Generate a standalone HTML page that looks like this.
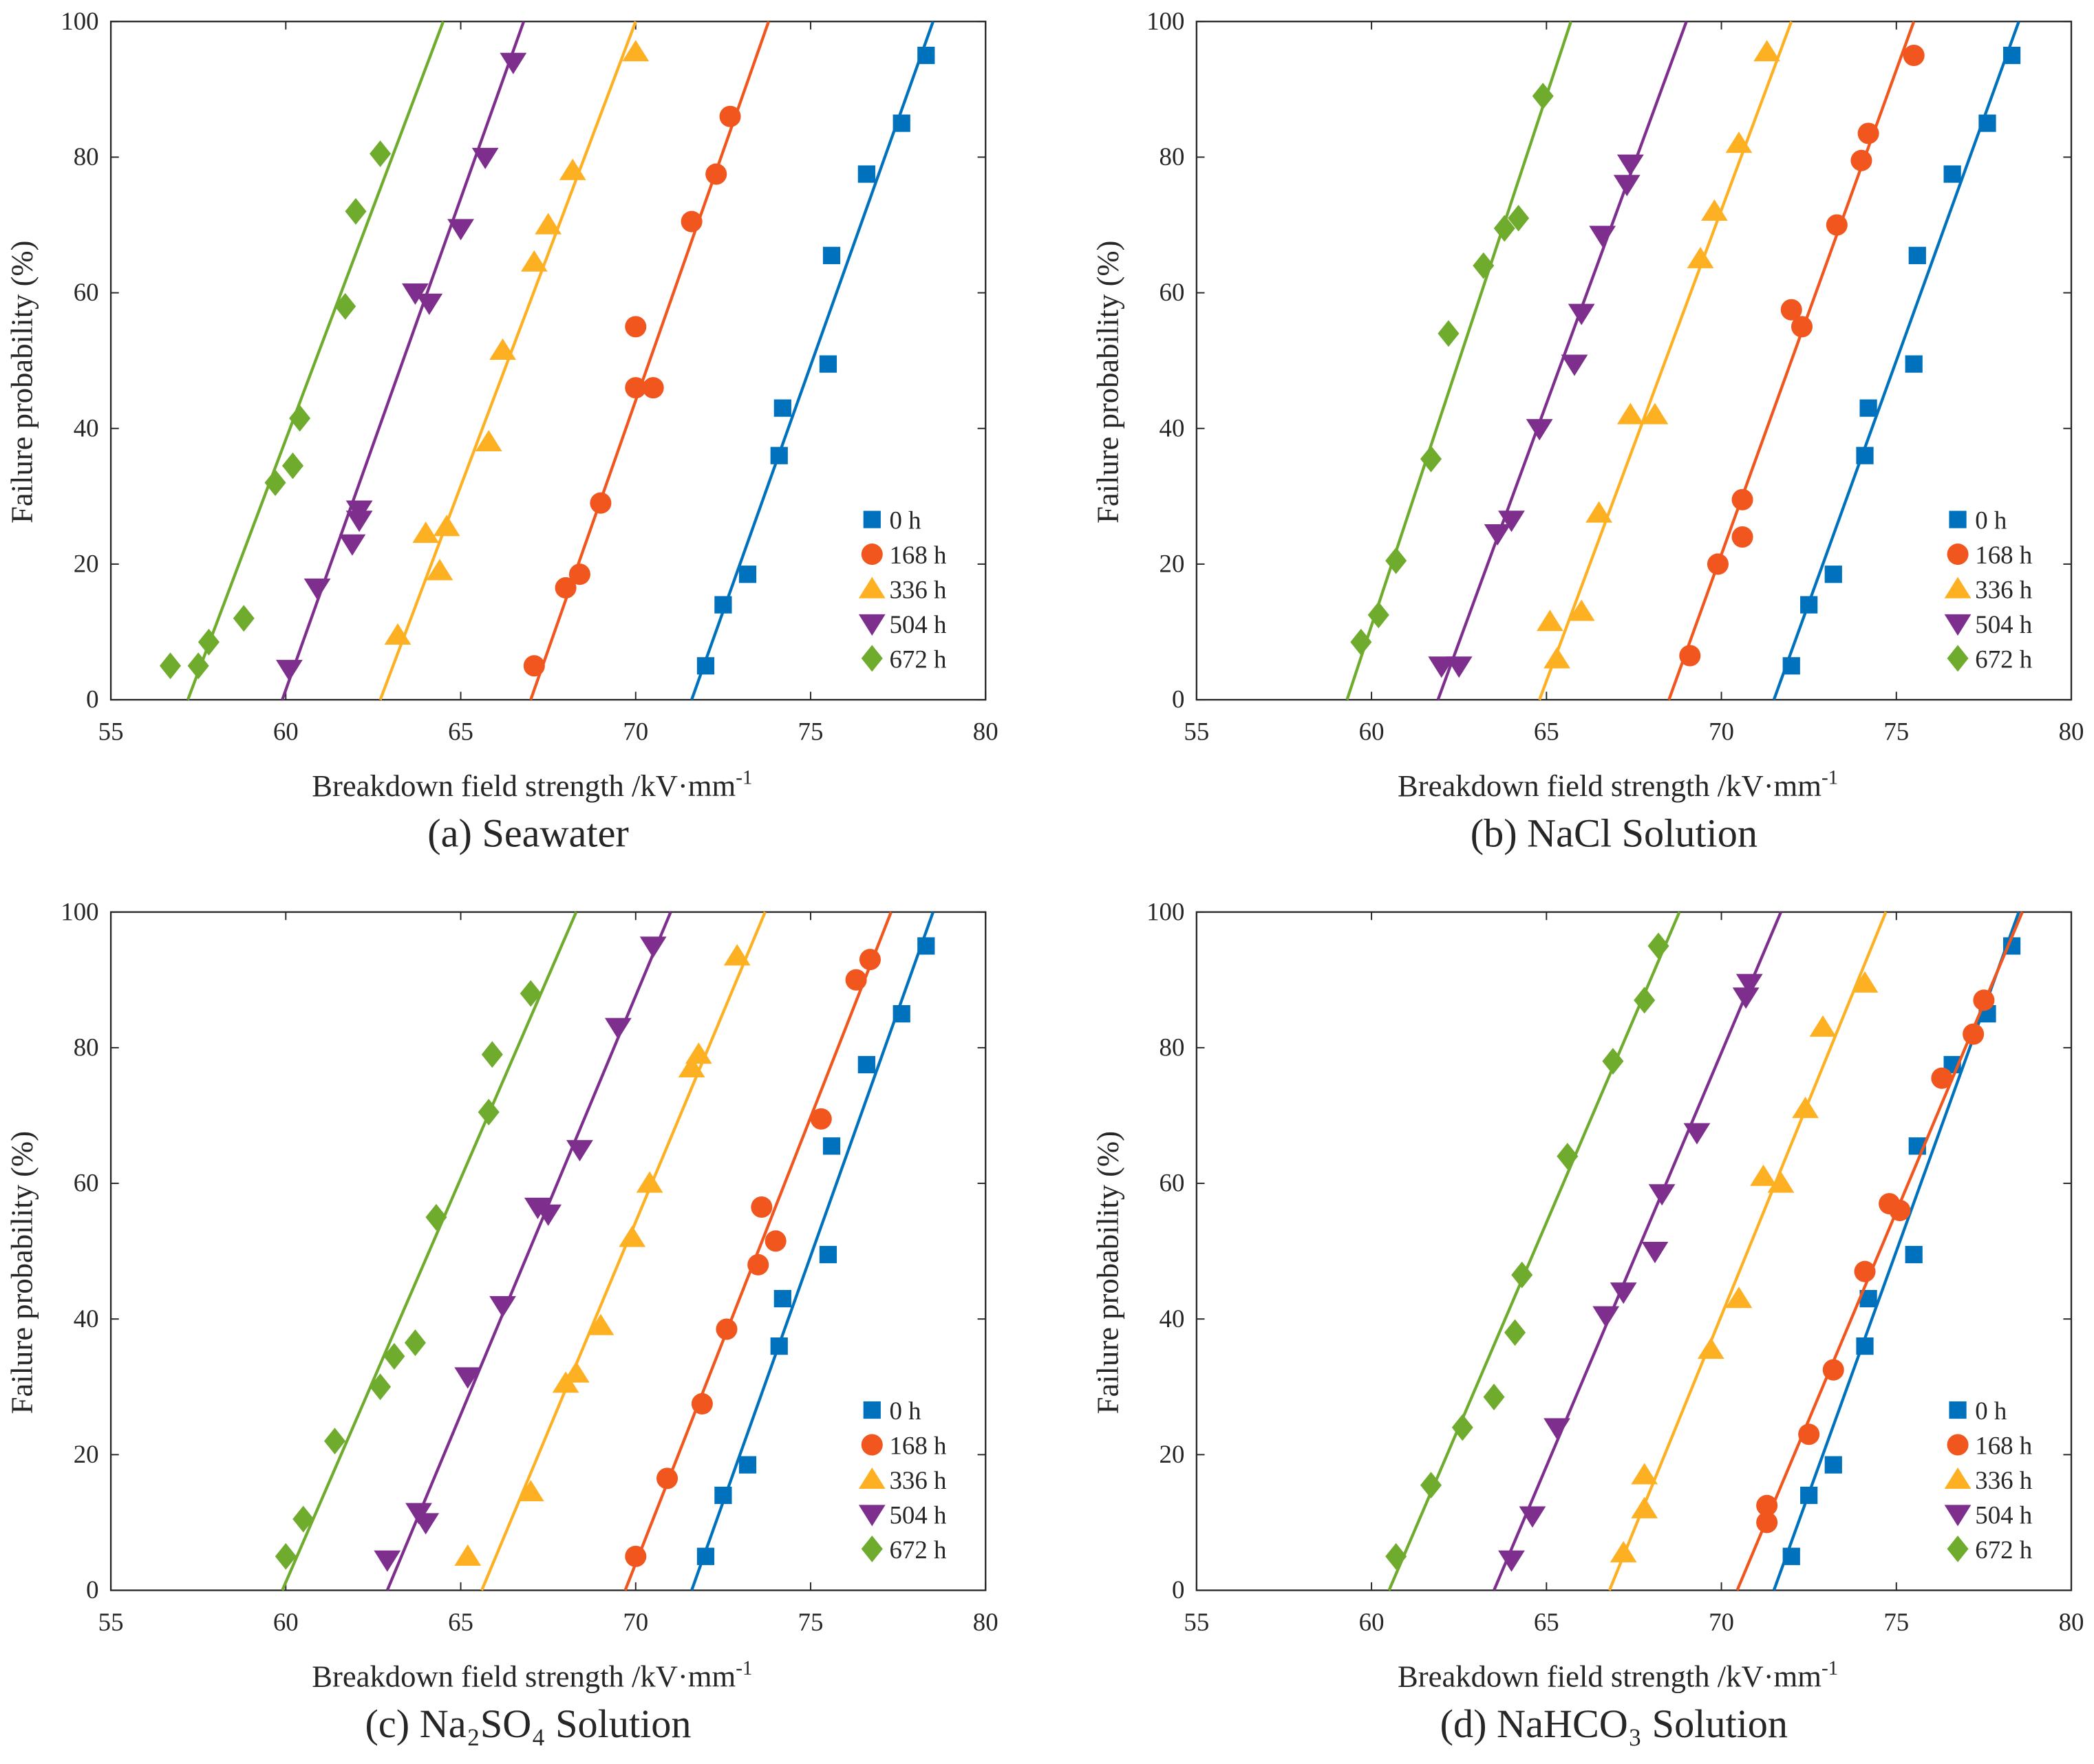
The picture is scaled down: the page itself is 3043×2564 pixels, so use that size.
<!DOCTYPE html>
<html><head><meta charset="utf-8"><style>
html,body{margin:0;padding:0;background:#fff;}
svg{display:block;}
svg text{font-family:"Liberation Serif","DejaVu Serif",serif;fill:#262626;}
</style></head><body>
<svg id="fig" width="3043" height="2564" viewBox="0 0 1568 1321" xmlns="http://www.w3.org/2000/svg" font-family="'Liberation Serif','DejaVu Serif',serif"></svg>
<script>
const series = ['0 h','168 h','336 h','504 h','672 h'];
const colors = ['#0072BD','#F0561D','#FDB022','#7E2F8E','#6FAC2E'];
const xTicks = [55,60,65,70,75,80];
const yTicks = [0,20,40,60,80,100];
const captions = ['(a) Seawater','(b) NaCl Solution','(c) Na\u2082SO\u2084 Solution','(d) NaHCO\u2083 Solution'];
const blueX = [72.0,72.5,73.2,74.1,74.2,75.5,75.6,76.6,77.6,78.3];
const blueY = [5,14,18.5,36,43,49.5,65.5,77.5,85,95];
const blueLine = [71.6,78.5];
// Panel a
const aX = [blueX,[67.1,68.0,68.4,69.0,70.0,70.5,70.0,71.6,72.3,72.7],[63.2,64.4,64.0,64.6,65.8,66.2,67.1,67.5,68.2,70.0],[60.1,60.9,61.9,62.1,62.1,63.7,64.1,65.0,65.7,66.5],[56.7,57.5,57.8,58.8,59.7,60.2,60.4,61.7,62.0,62.7]];
const aY = [blueY,[5,16.5,18.5,29,46,46,55,70.5,77.5,86],[9.5,19,24.5,25.5,38,51.5,64.5,70,78,95.5],[4.5,16.5,23,26.5,28,60,58.5,69.5,80,94],[5,5,8.5,12,32,34.5,41.5,58,72,80.5]];
const aLines = [blueLine,[67.0,73.8],[62.7,70.0],[59.9,66.8],[57.2,64.5]];
// Panel b
const bX = [blueX,[69.1,69.9,70.6,70.6,72.0,72.3,73.3,74.0,74.2,75.5],[65.1,65.3,66.0,66.5,67.4,68.1,69.4,69.8,70.5,71.3],[62.0,62.5,63.6,64.0,64.8,65.8,66.0,66.6,67.3,67.4],[59.7,60.2,60.7,61.7,62.2,63.2,63.8,64.2,64.9]];
const bY = [blueY,[6.5,20,24,29.5,57.5,55,70,79.5,83.5,95],[11.5,6,13,27.5,42,42,65,72,82,95.5],[5,5,24.5,26.5,40,49.5,57,68.5,76,79],[8.5,12.5,20.5,35.5,54,64,69.5,71,89]];
const bLines = [[71.5,78.5],[68.5,75.5],[64.8,72.0],[61.9,69.0],[59.3,65.7]];
// Panel c
const cX = [blueX,[70.0,70.9,71.9,72.6,73.5,73.6,74.0,75.3,76.3,76.7],[65.2,67.0,68.0,68.3,69.0,69.9,70.4,71.6,71.8,72.9],[62.9,63.8,64.0,65.2,66.2,67.2,67.5,68.4,69.5,70.5],[60.0,60.5,61.4,62.7,63.1,63.7,64.3,65.8,65.9,67.0]];
const cY = [blueY,[5,16.5,27.5,38.5,48,56.5,51.5,69.5,90,93],[5,14.5,30.5,32,39,52,60,77,79,93.5],[4.5,11.5,10,31.5,42,56.5,55.5,65,83,95],[5,10.5,22,30,34.5,36.5,55,70.5,79,88]];
const cLines = [blueLine,[69.7,77.3],[65.6,73.7],[62.9,71.0],[59.9,68.3]];
// Panel d
const dX = [blueX,[71.3,71.3,72.5,73.2,74.1,74.8,75.1,76.3,77.2,77.5],[67.2,67.8,67.8,69.7,70.5,71.2,71.7,72.4,72.9,74.1],[64.0,64.6,65.3,66.7,67.2,68.1,68.3,69.3,70.7,70.8],[60.7,61.7,62.6,63.5,64.1,64.3,65.6,66.9,67.8,68.2]];
const dY = [blueY,[10,12.5,23,32.5,47,57,56,75.5,82,87],[5.5,12,17,35.5,43,61,60,71,83,89.5],[4.5,11,24,40.5,44,50,58.5,67.5,87.5,89.5],[5,15.5,24,28.5,38,46.5,64,78,87,95]];
const dLines = [[71.5,78.5],[70.45,78.6],[66.8,74.7],[63.5,71.7],[60.5,68.8]];

const panels = [
 {X:aX,Y:aY,L:aLines,x0:83,y0:16},
 {X:bX,Y:bY,L:bLines,x0:896,y0:16},
 {X:cX,Y:cY,L:cLines,x0:83,y0:683},
 {X:dX,Y:dY,L:dLines,x0:896,y0:683}
];
const W=655,H=508;
const NS='http://www.w3.org/2000/svg';
const FF="'Liberation Serif','DejaVu Serif',serif";
const svg=document.getElementById('fig');
function mk(tag,attrs,parent){const e=document.createElementNS(NS,tag);for(const k in attrs)e.setAttribute(k,attrs[k]);if(tag==='text')e.setAttribute('font-family',FF);(parent||svg).appendChild(e);return e;}
function marker(g,k,px,py,c){
 let e;
 if(k===0){e=mk('rect',{x:px-6.5,y:py-6.5,width:13,height:13,fill:c},g);}
 else if(k===1){e=mk('circle',{cx:px,cy:py,r:8,fill:c},g);}
 else if(k===2){e=mk('polygon',{points:`${px},${py-9} ${px+10},${py+7} ${px-10},${py+7}`,fill:c},g);}
 else if(k===3){e=mk('polygon',{points:`${px},${py+9} ${px+10},${py-7} ${px-10},${py-7}`,fill:c},g);}
 else {e=mk('polygon',{points:`${px},${py-10} ${px+8},${py} ${px},${py+10} ${px-8},${py}`,fill:c},g);}
 return e;
}
panels.forEach((p,pi)=>{
 const g=mk('g',{});
 
 
 const sx=v=>p.x0+(v-55)/25*W;
 const sy=v=>p.y0+H-v/100*H;
 const box=mk('rect',{x:p.x0,y:p.y0,width:W,height:H,fill:'#fff',stroke:'#262626','stroke-width':1.2},g);
 
 
 xTicks.forEach(t=>{
  const x=sx(t);
  mk('line',{x1:x,y1:p.y0+H,x2:x,y2:p.y0+H-6,stroke:'#262626'},g);
  mk('line',{x1:x,y1:p.y0,x2:x,y2:p.y0+6,stroke:'#262626'},g);
  const tx=mk('text',{x:x,y:p.y0+H+30,'text-anchor':'middle','font-size':19},g);
  tx.textContent=t;
  
  
 });
 yTicks.forEach(t=>{
  const y=sy(t);
  mk('line',{x1:p.x0,y1:y,x2:p.x0+6,y2:y,stroke:'#262626'},g);
  mk('line',{x1:p.x0+W,y1:y,x2:p.x0+W-6,y2:y,stroke:'#262626'},g);
  const tx=mk('text',{x:p.x0-9,y:y+6,'text-anchor':'end','font-size':19},g);
  tx.textContent=t;
  
  
 });
 const xl=mk('text',{x:p.x0+W/2-12,y:p.y0+H+72,'text-anchor':'middle','font-size':23},g);
 xl.innerHTML='Breakdown field strength /kV·mm<tspan dy="-9" font-size="15">-1</tspan>';
 
 
 const yl=mk('text',{x:0,y:0,'text-anchor':'middle','font-size':23,transform:`translate(${p.x0-59},${p.y0+H/2+16}) rotate(-90)`},g);
 yl.textContent='Failure probability (%)';
 
 
 const cap=mk('text',{x:p.x0+W/2-15,y:p.y0+H+110,'text-anchor':'middle','font-size':30},g);
 cap.textContent=captions[pi];
 
 
 for(let k=0;k<5;k++){
  const L=p.L[k];
  const ln=mk('line',{x1:sx(L[0]),y1:sy(0),x2:sx(L[1]),y2:sy(100),stroke:colors[k],'stroke-width':2.2},g);
  
  
  p.X[k].forEach((xv,i)=>{
   const m=marker(g,k,sx(xv),sy(p.Y[k][i]),colors[k]);
   
   
  });
 }
 const lg=mk('g',{},g);
 
 
 series.forEach((s,k)=>{
  const y=p.y0+373+k*26;
  const m=marker(lg,k,p.x0+570,y,colors[k]);
  
  
  const t=mk('text',{x:p.x0+583,y:y+7,'font-size':19},lg);
  t.textContent=s;
  
  
 });
});
</script>
</body></html>
